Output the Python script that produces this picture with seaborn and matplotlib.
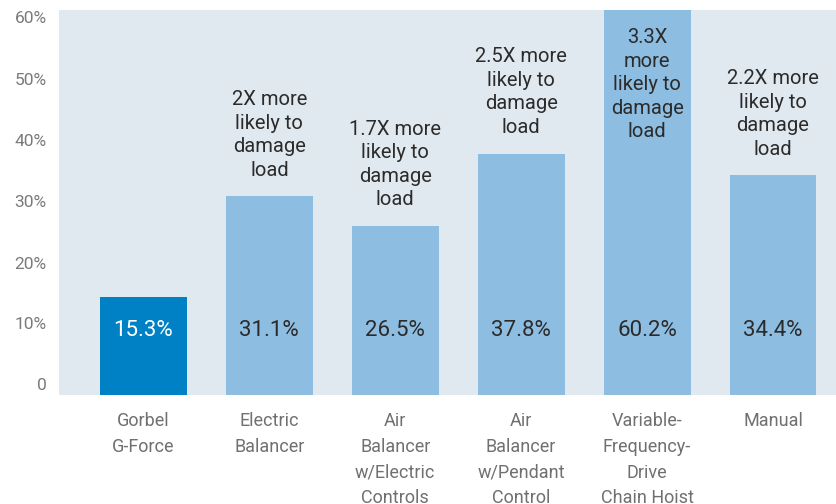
import matplotlib
matplotlib.use("Agg")
import matplotlib.pyplot as plt
import pandas as pd
import seaborn as sns

# Data
categories = ["Gorbel\nG-Force", "Electric\nBalancer", "Air\nBalancer\nw/Electric\nControls",
              "Air\nBalancer\nw/Pendant\nControl", "Variable-\nFrequency-\nDrive\nChain Hoist", "Manual"]
values = [15.3, 31.1, 26.5, 37.8, 60.2, 34.4]
value_labels = ["15.3%", "31.1%", "26.5%", "37.8%", "60.2%", "34.4%"]
notes = ["", "2X more\nlikely to\ndamage\nload", "1.7X more\nlikely to\ndamage\nload",
         "2.5X more\nlikely to\ndamage\nload", "3.3X\nmore\nlikely to\ndamage\nload",
         "2.2X more\nlikely to\ndamage\nload"]
tick_labels = ["0", "10%", "20%", "30%", "40%", "50%", "60%"]
tick_pos = [1.7, 11.2, 20.7, 30.3, 39.9, 49.5, 59.1]

dark_blue = "#0081c6"
light_blue = "#8dbde1"
bg = "#e1e9f0"

sns.set_style("white")
plt.rcParams["font.family"] = ["Liberation Sans Narrow", "Roboto", "DejaVu Sans"]

df = pd.DataFrame({"cat": categories, "val": values})
colors = [dark_blue] + [light_blue] * (len(categories) - 1)

fig = plt.figure(figsize=(8.36, 5.04), dpi=100)
ax = fig.add_axes([0.0706, 0.2163, 0.9294, 0.7637])
sns.barplot(data=df, x="cat", y="val", hue="cat", palette=colors, legend=False,
            width=0.69, saturation=1, edgecolor="none", ax=ax)
ax.set_facecolor(bg)
ax.set_xlim(-0.67, 5.5)
ax.set_ylim(0, 60.25)
for s in ax.spines.values():
    s.set_visible(False)
ax.set_xlabel("")
ax.set_ylabel("")
ax.set_yticks(tick_pos)
ax.set_yticklabels(tick_labels)
ax.tick_params(axis="y", length=0, pad=9, labelsize=12.5, labelcolor="#7a7a7a")
ax.set_xticks(range(len(categories)))
ax.set_xticklabels(categories, linespacing=1.55)
ax.tick_params(axis="x", length=0, pad=12.5, labelsize=13, labelcolor="#707070")

for i, (v, lab, note) in enumerate(zip(values, value_labels, notes)):
    ax.text(i, 10.1, lab, ha="center", va="center", fontsize=16,
            color="white" if i == 0 else "#2b2b2b")
    if not note:
        continue
    if v > 55:
        ax.text(i, 57.4, note, ha="center", va="top", fontsize=14.5,
                color="#2b2b2b", linespacing=1.3)
    else:
        ax.annotate(note, (i, v), xytext=(0, 12), textcoords="offset points",
                    ha="center", va="bottom", fontsize=14.5, color="#2b2b2b",
                    linespacing=1.3)

fig.savefig("out.png", dpi=100)
